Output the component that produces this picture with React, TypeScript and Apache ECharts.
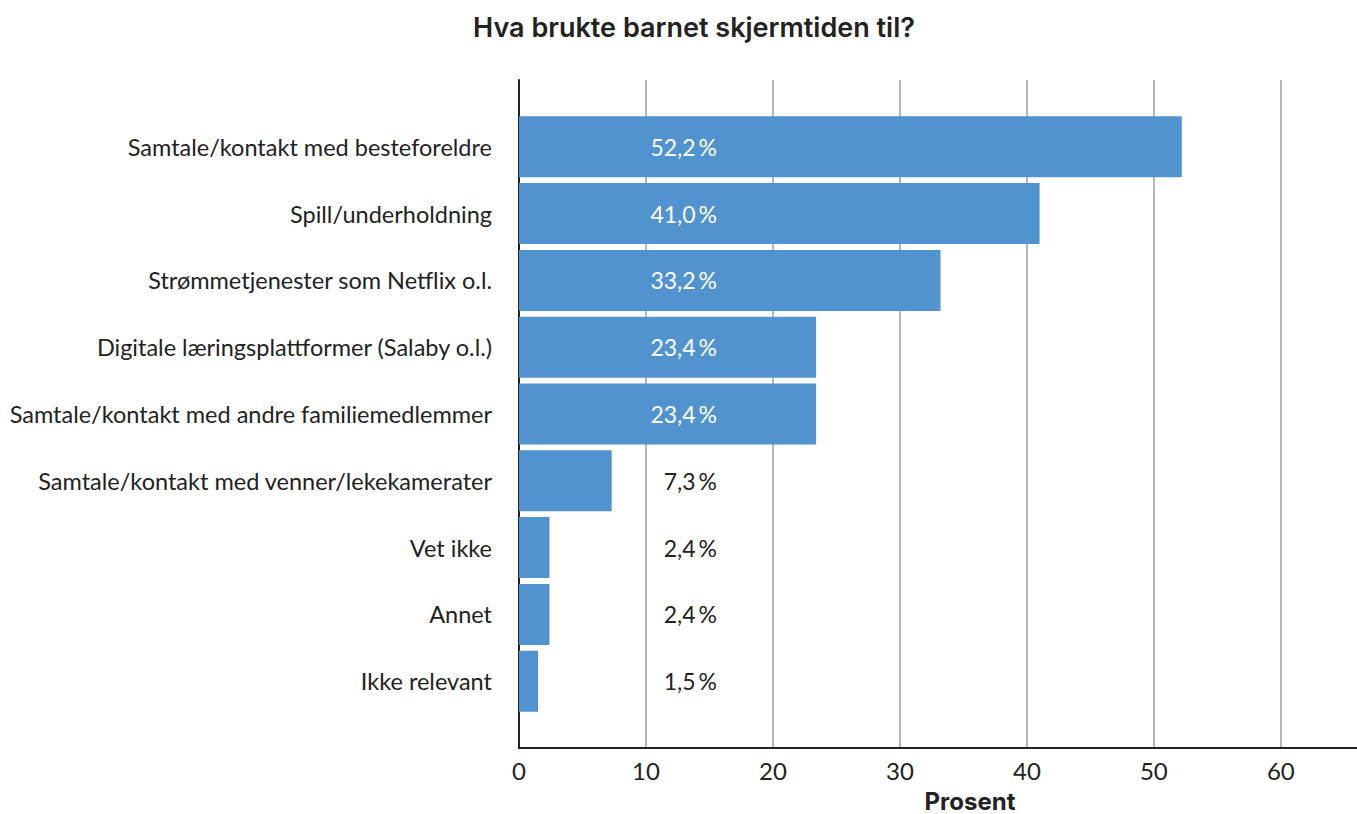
import React, { useEffect, useRef } from "react";
import * as echarts from "echarts";

const title = "Hva brukte barnet skjermtiden til?";
const axisTitle = "Prosent";
const categories = [
  "Samtale/kontakt med besteforeldre",
  "Spill/underholdning",
  "Strømmetjenester som Netflix o.l.",
  "Digitale læringsplattformer (Salaby o.l.)",
  "Samtale/kontakt med andre familiemedlemmer",
  "Samtale/kontakt med venner/lekekamerater",
  "Vet ikke",
  "Annet",
  "Ikke relevant",
];
const values = [52.2, 41.0, 33.2, 23.4, 23.4, 7.3, 2.4, 2.4, 1.5];
const xMin = 0;
const xMax = 66;
const xInterval = 10;

const BAR = "#5193cf";
const TEXT = "#222222";
const FONT = "Lato";

export default function App() {
  const ref = useRef<HTMLDivElement>(null);
  useEffect(() => {
    document.body.style.margin = "0";
    if (!ref.current) return;
    const chart = echarts.init(ref.current, undefined, { renderer: "svg" });
    const labelRight = 198; // px from bar start
    const threshold = 15.6;
    chart.setOption({
      animation: false,
      textStyle: { fontFamily: FONT },
      title: {
        text: title,
        left: 689,
        textAlign: "center",
        top: 9,
        textStyle: { fontFamily: "Inter", fontWeight: 600, fontSize: 27, color: TEXT },
      },
      graphic: [
        {
          type: "text",
          x: 970,
          y: 801,
          style: {
            text: axisTitle,
            fontFamily: "Inter",
            fontWeight: 700,
            fontSize: 24,
            fill: TEXT,
            align: "center",
            verticalAlign: "middle",
          },
        },
      ],
      grid: [
        { left: 519, right: 0, top: 113.4, height: 601.2, containLabel: false },
        { left: 519, right: 0, top: 80, bottom: 66, containLabel: false },
      ],
      xAxis: [
        {
          gridIndex: 0,
          type: "value",
          min: xMin,
          max: xMax,
          interval: xInterval,
          show: false,
        },
        {
          gridIndex: 1,
          type: "value",
          min: xMin,
          max: xMax,
          interval: xInterval,
          axisLine: { show: true, lineStyle: { color: TEXT, width: 2 } },
          axisTick: { show: false },
          axisLabel: {
            show: true,
            showMaxLabel: false,
            color: TEXT,
            fontSize: 24,
            fontFamily: FONT,
            margin: 10,
            formatter: (v: number) => (v % 10 === 0 ? String(v) : ""),
          },
          splitLine: {
            show: true,
            showMinLine: false,
            showMaxLine: false,
            lineStyle: { color: "#b5b5bb", width: 2 },
          },
        },
      ],
      yAxis: [
        {
          gridIndex: 0,
          type: "category",
          data: categories,
          inverse: true,
          axisLine: { show: false },
          axisTick: { show: false },
          axisLabel: { color: TEXT, fontSize: 23.5, fontFamily: FONT, margin: 27 },
        },
        {
          gridIndex: 1,
          type: "value",
          min: 0,
          max: 1,
          axisLine: { show: true, lineStyle: { color: TEXT, width: 2 } },
          axisTick: { show: false },
          axisLabel: { show: false },
          splitLine: { show: false },
        },
      ],
      series: [
        {
          type: "bar",
          xAxisIndex: 0,
          yAxisIndex: 0,
          barWidth: 61,
          itemStyle: { color: BAR },
          z: 3,
          data: values.map((v) => ({
            value: v,
            label: { color: v > threshold ? "#ffffff" : TEXT },
          })),
          label: {
            show: true,
            position: [labelRight, "50%"],
            align: "right",
            verticalAlign: "middle",
            fontSize: 23,
            fontFamily: FONT,
            formatter: (p: any) => p.value.toFixed(1).replace(".", ",") + "\u2009%",
          },
        },
      ],
    });
    return () => chart.dispose();
  }, []);
  return <div ref={ref} style={{ width: 1357, height: 814 }} />;
}
